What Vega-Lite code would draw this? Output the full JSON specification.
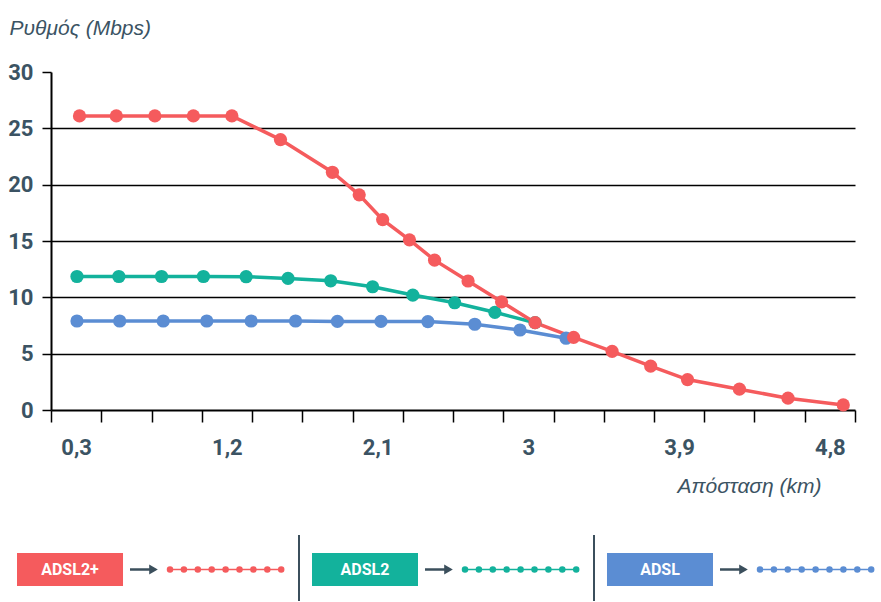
{
  "$schema": "https://vega.github.io/schema/vega-lite/v6.json",
  "padding": {"left": 7, "top": 17, "right": 0, "bottom": 0},
  "bounds": "flush",
  "spacing": 122,
  "config": {"view": {"stroke": null}, "font": "Roboto, sans-serif"},
  "datasets": {
    "speeds": [
      {"series": "ADSL", "km": 0.305, "rate": 7.9},
      {"series": "ADSL", "km": 0.56, "rate": 7.9},
      {"series": "ADSL", "km": 0.82, "rate": 7.9},
      {"series": "ADSL", "km": 1.08, "rate": 7.9},
      {"series": "ADSL", "km": 1.345, "rate": 7.9},
      {"series": "ADSL", "km": 1.61, "rate": 7.9},
      {"series": "ADSL", "km": 1.86, "rate": 7.86},
      {"series": "ADSL", "km": 2.12, "rate": 7.86},
      {"series": "ADSL", "km": 2.4, "rate": 7.85},
      {"series": "ADSL", "km": 2.68, "rate": 7.61},
      {"series": "ADSL", "km": 2.95, "rate": 7.1},
      {"series": "ADSL", "km": 3.225, "rate": 6.37},
      {"series": "ADSL2", "km": 0.305, "rate": 11.85},
      {"series": "ADSL2", "km": 0.555, "rate": 11.85},
      {"series": "ADSL2", "km": 0.81, "rate": 11.85},
      {"series": "ADSL2", "km": 1.06, "rate": 11.85},
      {"series": "ADSL2", "km": 1.315, "rate": 11.83},
      {"series": "ADSL2", "km": 1.565, "rate": 11.68},
      {"series": "ADSL2", "km": 1.82, "rate": 11.47},
      {"series": "ADSL2", "km": 2.07, "rate": 10.94},
      {"series": "ADSL2", "km": 2.31, "rate": 10.2},
      {"series": "ADSL2", "km": 2.56, "rate": 9.52},
      {"series": "ADSL2", "km": 2.8, "rate": 8.67},
      {"series": "ADSL2", "km": 3.04, "rate": 7.75},
      {"series": "ADSL2+", "km": 0.32, "rate": 26.1},
      {"series": "ADSL2+", "km": 0.54, "rate": 26.1},
      {"series": "ADSL2+", "km": 0.77, "rate": 26.1},
      {"series": "ADSL2+", "km": 1.0, "rate": 26.1},
      {"series": "ADSL2+", "km": 1.23, "rate": 26.1},
      {"series": "ADSL2+", "km": 1.52, "rate": 24.0},
      {"series": "ADSL2+", "km": 1.83, "rate": 21.1},
      {"series": "ADSL2+", "km": 1.99, "rate": 19.1},
      {"series": "ADSL2+", "km": 2.13, "rate": 16.9},
      {"series": "ADSL2+", "km": 2.29, "rate": 15.1},
      {"series": "ADSL2+", "km": 2.44, "rate": 13.3},
      {"series": "ADSL2+", "km": 2.64, "rate": 11.45},
      {"series": "ADSL2+", "km": 2.84, "rate": 9.6},
      {"series": "ADSL2+", "km": 3.04, "rate": 7.75},
      {"series": "ADSL2+", "km": 3.27, "rate": 6.45},
      {"series": "ADSL2+", "km": 3.5, "rate": 5.2},
      {"series": "ADSL2+", "km": 3.73, "rate": 3.9},
      {"series": "ADSL2+", "km": 3.95, "rate": 2.7},
      {"series": "ADSL2+", "km": 4.26, "rate": 1.85},
      {"series": "ADSL2+", "km": 4.55, "rate": 1.05},
      {"series": "ADSL2+", "km": 4.88, "rate": 0.45}
    ],
    "legend": [
      {"series": "ADSL2+"},
      {"series": "ADSL2"},
      {"series": "ADSL"}
    ]
  },
  "vconcat": [
    {
      "width": 804,
      "height": 338,
      "data": {"name": "speeds"},
      "encoding": {
        "x": {
          "field": "km",
          "type": "quantitative",
          "scale": {"domain": [0.15, 4.95], "nice": false, "zero": false},
          "axis": {
            "values": [0.15, 0.3, 0.45, 0.75, 1.05, 1.2, 1.35, 1.65, 1.95, 2.1, 2.25, 2.55, 2.85, 3, 3.15, 3.45, 3.75, 3.9, 4.05, 4.35, 4.65, 4.8, 4.95],
            "labelExpr": "indexof([0.3, 1.2, 2.1, 3, 3.9, 4.8], datum.value) >= 0 ? replace(format(datum.value, '.1~f'), '.', ',') : ''",
            "tickOpacity": {"condition": {"test": "indexof([0.3, 1.2, 2.1, 3, 3.9, 4.8], datum.value) >= 0", "value": 0}, "value": 1},
            "tickSize": 12,
            "tickWidth": 1.5,
            "tickColor": "#000000",
            "domainColor": "#000000",
            "domainWidth": 2,
            "grid": false,
            "labelFont": "Roboto, sans-serif",
            "labelFontWeight": "bold",
            "labelFontSize": 22,
            "labelColor": "#3b5363",
            "labelPadding": 15,
            "labelOverlap": false,
            "labelFlush": false,
            "title": "Απόσταση (km)",
            "titleFont": "Liberation Sans, sans-serif",
            "titleFontStyle": "italic",
            "titleFontWeight": "normal",
            "titleFontSize": 21,
            "titleColor": "#3b5363",
            "titleAnchor": "end",
            "titleAlign": "right",
            "titleBaseline": "alphabetic",
            "titleX": 770,
            "titleY": 82
          }
        },
        "y": {
          "field": "rate",
          "type": "quantitative",
          "scale": {"domain": [0, 30], "nice": false},
          "axis": {
            "values": [0, 5, 10, 15, 20, 25, 30],
            "grid": true,
            "gridColor": "#000000",
            "gridWidth": 1.5,
            "gridOpacity": {"condition": {"test": "datum.value === 30 || datum.value === 0", "value": 0}, "value": 1},
            "tickSize": 9,
            "tickWidth": 1.5,
            "tickColor": "#000000",
            "domainColor": "#000000",
            "domainWidth": 2,
            "labelFont": "Roboto, sans-serif",
            "labelFontWeight": "bold",
            "labelFontSize": 22,
            "labelColor": "#3b5363",
            "labelPadding": 9,
            "title": "Ρυθμός (Mbps)",
            "titleFont": "Liberation Sans, sans-serif",
            "titleFontStyle": "italic",
            "titleFontWeight": "normal",
            "titleFontSize": 21,
            "titleColor": "#3b5363",
            "titleAngle": 0,
            "titleAlign": "left",
            "titleBaseline": "alphabetic",
            "titleX": -42,
            "titleY": -38
          }
        },
        "color": {
          "field": "series",
          "type": "nominal",
          "scale": {"domain": ["ADSL2+", "ADSL2", "ADSL"], "range": ["#f55b5d", "#13b29c", "#5b8dd3"]},
          "legend": null
        }
      },
      "layer": [
        {"mark": {"type": "line", "strokeWidth": 3.5}},
        {"mark": {"type": "point", "filled": true, "size": 175, "opacity": 1}}
      ]
    },
    {
      "width": 791,
      "height": 70,
      "data": {"name": "legend"},
      "encoding": {
        "x": {
          "field": "series",
          "type": "nominal",
          "sort": ["ADSL2+", "ADSL2", "ADSL"],
          "scale": {"type": "point", "padding": 0.3407},
          "axis": null
        },
        "color": {
          "field": "series",
          "type": "nominal",
          "scale": {"domain": ["ADSL2+", "ADSL2", "ADSL"], "range": ["#f55b5d", "#13b29c", "#5b8dd3"]},
          "legend": null
        }
      },
      "layer": [
        {
          "mark": {"type": "bar", "width": 106, "xOffset": -81.5},
          "encoding": {
            "y": {"datum": 4.9, "type": "quantitative", "scale": {"domain": [0, 7], "nice": false}, "axis": null},
            "y2": {"datum": 1.6}
          }
        },
        {
          "mark": {"type": "text", "xOffset": -81.5, "font": "Roboto, sans-serif", "fontWeight": "bold", "fontSize": 16, "baseline": "middle", "align": "center"},
          "encoding": {
            "text": {"field": "series"},
            "y": {"datum": 3.25, "type": "quantitative"},
            "color": {"value": "#ffffff"}
          }
        },
        {
          "mark": {"type": "rule", "strokeWidth": 2.5, "xOffset": -21.5, "x2Offset": 3},
          "encoding": {
            "x2": {"field": "series"},
            "y": {"datum": 3.25, "type": "quantitative"},
            "color": {"value": "#3b4f5c"}
          }
        },
        {
          "mark": {"type": "point", "shape": "triangle-right", "filled": true, "size": 100, "xOffset": 2, "opacity": 1},
          "encoding": {
            "y": {"datum": 3.25, "type": "quantitative"},
            "color": {"value": "#3b4f5c"}
          }
        },
        {
          "mark": {"type": "rule", "strokeWidth": 1.5, "xOffset": 18.5, "x2Offset": 130},
          "encoding": {
            "x2": {"field": "series"},
            "y": {"datum": 3.25, "type": "quantitative"}
          }
        },
        {
          "mark": {"type": "rule", "strokeWidth": 6.5, "strokeDash": [0, 13.9], "strokeCap": "round", "xOffset": 18.5, "x2Offset": 130.4},
          "encoding": {
            "x2": {"field": "series"},
            "y": {"datum": 3.25, "type": "quantitative"}
          }
        },
        {
          "transform": [{"filter": "datum.series !== 'ADSL2+'"}],
          "mark": {"type": "rule", "strokeWidth": 2, "xOffset": -147.5},
          "encoding": {
            "y": {"datum": 6.7, "type": "quantitative"},
            "y2": {"datum": 0.1},
            "color": {"value": "#3b4f5c"}
          }
        }
      ]
    }
  ]
}
